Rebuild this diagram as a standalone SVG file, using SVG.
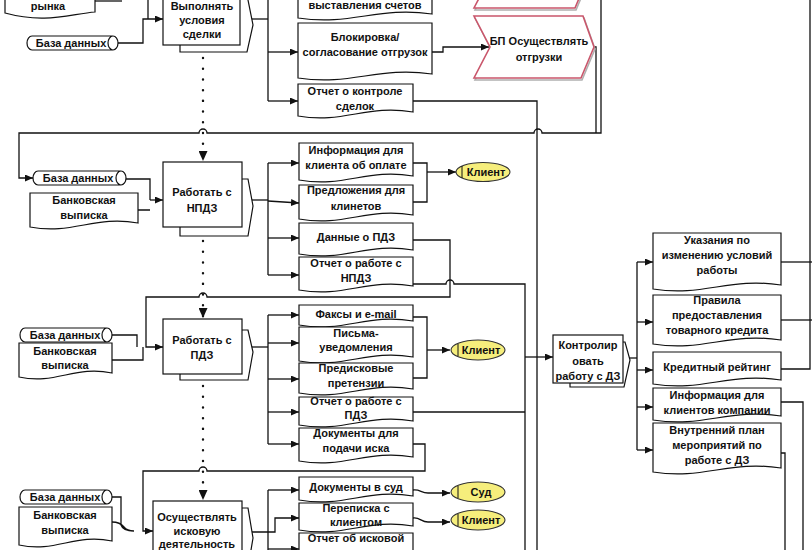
<svg xmlns="http://www.w3.org/2000/svg" width="812" height="550" viewBox="0 0 812 550">
<defs>
<style>
.ln{fill:none;stroke:#111;stroke-width:1.3}
.doc{fill:#fff;stroke:#111;stroke-width:1.2}
.box{fill:#fff;stroke:#111;stroke-width:1.2}
.dot{fill:none;stroke:#111;stroke-width:2.4;stroke-dasharray:0.1 10.6;stroke-linecap:round}
.pink{fill:#fff;stroke:#c9566b;stroke-width:1.6}
.pinks{fill:none;stroke:#b0b0b0;stroke-width:1.6}
.ell{fill:#f6ee7c;stroke:#333;stroke-width:1.1}
.t{font-family:"Liberation Sans",Arial,sans-serif;font-weight:bold;font-size:11px;fill:#111;text-anchor:middle}
</style>
<marker id="a" viewBox="0 0 8 7" refX="8" refY="3.5" markerWidth="8" markerHeight="7" markerUnits="userSpaceOnUse" orient="auto"><path d="M0,0 L8,3.5 L0,7 Z" fill="#111"/></marker>
<marker id="ad" viewBox="0 0 10 9" refX="10" refY="4.5" markerWidth="10" markerHeight="9" markerUnits="userSpaceOnUse" orient="auto"><path d="M0,0 L10,4.5 L0,9 Z" fill="#111"/></marker>
</defs>

<!-- connectors -->
<g id="connectors">
<!-- top section -->
<path class="ln" d="M95,1 H122"/>
<path class="ln" d="M148,-5 V19"/>
<path class="ln" d="M118,43 H143 V19 H163" marker-end="url(#a)"/>
<path class="ln" d="M240,19 H268"/>
<path class="ln" d="M268,-10 V101"/>
<path class="ln" d="M268,52 H298" marker-end="url(#a)"/>
<path class="ln" d="M268,101 H298" marker-end="url(#a)"/>
<path class="ln" d="M432,52 H443 V47 H489" marker-end="url(#a)"/>
<path class="ln" d="M594,47 H596 V133"/>
<path class="ln" d="M601,-10 V133 H542 A4,4 0 0 0 534,133 H207 A4,4 0 0 0 199,133 H19 V178 H33" marker-end="url(#a)"/>
<path class="ln" d="M413,101 H537 V552"/>
<path class="dot" d="M203,58 V161" marker-end="url(#ad)"/>

<!-- NPDZ section -->
<path class="ln" d="M126,179 H150 V200 M138,210 H150"/>
<path class="ln" d="M150,200 H163" marker-end="url(#a)"/>
<path class="ln" d="M242,200 H268"/>
<path class="ln" d="M268,163 V275"/>
<path class="ln" d="M268,163 H299" marker-end="url(#a)"/>
<path class="ln" d="M268,201 L299,203" marker-end="url(#a)"/>
<path class="ln" d="M268,238 H299" marker-end="url(#a)"/>
<path class="ln" d="M268,275 H299" marker-end="url(#a)"/>
<path class="ln" d="M413,163 H427 V202 H413"/>
<path class="ln" d="M427,172 H456" marker-end="url(#a)"/>
<path class="ln" d="M413,240 H450 V297 H207 A4,4 0 0 0 199,297 H146 V347 H163" marker-end="url(#a)"/>
<path class="ln" d="M413,284 H446 A4,4 0 0 1 454,284 H525 V552"/>
<path class="dot" d="M203,241 V318" marker-end="url(#ad)"/>

<!-- PDZ section -->
<path class="ln" d="M112,335 H137 V347 M112,360 H143 V347"/>
<path class="ln" d="M242,347 H268"/>
<path class="ln" d="M268,315 V444"/>
<path class="ln" d="M268,315 H299" marker-end="url(#a)"/>
<path class="ln" d="M268,343 H299" marker-end="url(#a)"/>
<path class="ln" d="M268,379 H299" marker-end="url(#a)"/>
<path class="ln" d="M268,412 H299" marker-end="url(#a)"/>
<path class="ln" d="M268,444 H299" marker-end="url(#a)"/>
<path class="ln" d="M413,317 H427 V378 H413"/>
<path class="ln" d="M427,350 H450" marker-end="url(#a)"/>
<path class="ln" d="M413,412 H525"/>
<path class="ln" d="M413,444 H425 V471 H207 A4,4 0 0 0 199,471 H143 V531 H153" marker-end="url(#a)"/>
<path class="dot" d="M203,386 V500" marker-end="url(#ad)"/>

<!-- suit section -->
<path class="ln" d="M112,497 H121 V525 Q123,531 134,531 M112,522 Q120,522 124,527 Q127,531 134,531"/>
<path class="ln" d="M242,532 H275 V518 H299" marker-end="url(#a)"/>
<path class="ln" d="M268,490 V552"/>
<path class="ln" d="M268,490 H299" marker-end="url(#a)"/>
<path class="ln" d="M268,549 H299" marker-end="url(#a)"/>
<path class="ln" d="M413,490 C420,489 421,493 428,493 H450" marker-end="url(#a)"/>
<path class="ln" d="M413,518 C420,517 421,522 428,522 H450" marker-end="url(#a)"/>

<!-- control section -->
<path class="ln" d="M525,357 H553" marker-end="url(#a)"/>
<path class="ln" d="M623,358 H637"/>
<path class="ln" d="M637,262 V450"/>
<path class="ln" d="M637,262 H653" marker-end="url(#a)"/>
<path class="ln" d="M637,322 H653" marker-end="url(#a)"/>
<path class="ln" d="M637,370 H653" marker-end="url(#a)"/>
<path class="ln" d="M637,407 H653" marker-end="url(#a)"/>
<path class="ln" d="M637,450 H653" marker-end="url(#a)"/>
<path class="ln" d="M780,262 H812"/>
<path class="ln" d="M780,320 H812"/>
<path class="ln" d="M780,369 H810 V-10"/>
<path class="ln" d="M780,402 H803 V552"/>
<path class="ln" d="M780,453 H785 V552"/>
</g>

<!-- top section nodes -->
<g id="doc-rynka"><path class="doc" d="M5,-30 H95 V12 C70,14 45,24 5,13 Z"/><text class="t" x="48" y="10">рынка</text></g>
<g id="db-top"><path class="doc" d="M32,36 H113 A5,7 0 0 1 113,50 H32 A5,7 0 0 1 32,36 Z M113,36 A5,7 0 0 0 113,50"/><text class="t" x="71" y="47">База данных</text></g>
<g id="proc-deal"><polygon class="box" points="180,45 180,52 247,52 253,25 247,-5 240,-5"/><rect class="box" x="163" y="-8" width="77" height="53"/><text class="t" x="202" y="10">Выполнять</text><text class="t" x="202" y="24">условия</text><text class="t" x="202" y="38">сделки</text></g>
<g id="doc-invoice"><path class="doc" d="M298,-30 H432 V14 C378,6 352,26 298,18 Z"/><text class="t" x="365" y="9">выставления счетов</text></g>
<g id="doc-block"><path class="doc" d="M298,23 H432 V74 C378,66 352,86 298,78 Z"/><text class="t" x="365" y="41">Блокировка/</text><text class="t" x="365" y="56">согласование отгрузок</text></g>
<g id="doc-report-deals"><path class="doc" d="M298,84 H413 V112 C367,104 344,124 298,116 Z"/><text class="t" x="355" y="95">Отчет о контроле</text><text class="t" x="355" y="110">сделок</text></g>
<g id="bp-top"><polygon class="pinks" points="475,-52 576,-52 589,-21 576,10 475,10 491,-21"/><polygon class="pink" points="474,-54 575,-54 588,-23 575,8 474,8 490,-23"/></g>
<g id="bp-shipping"><polygon class="pinks" points="475,18 584,18 595,49 582,80 475,80 491,49"/><polygon class="pink" points="474,16 583,16 594,47 581,78 474,78 490,47"/><text class="t" x="539" y="45">БП Осуществлять</text><text class="t" x="539" y="61">отгрузки</text></g>

<!-- NPDZ -->
<g id="db-npdz"><path class="doc" d="M38,171 H121 A5,7 0 0 1 121,185 H38 A5,7 0 0 1 38,171 Z M121,171 A5,7 0 0 0 121,185"/><text class="t" x="78" y="182">База данных</text></g>
<g id="doc-bank-npdz"><path class="doc" d="M30,193 H138 V223 C95,215 73,235 30,227 Z"/><text class="t" x="84" y="204">Банковская</text><text class="t" x="84" y="219">выписка</text></g>
<g id="proc-npdz"><polygon class="box" points="180,227 180,236 248,236 253,206 248,179 242,179"/><rect class="box" x="163" y="162" width="79" height="65"/><text class="t" x="202" y="196">Работать с</text><text class="t" x="202" y="212">НПДЗ</text></g>
<g id="doc-info-pay"><path class="doc" d="M299,143 H413 V176 C367,168 345,188 299,180 Z"/><text class="t" x="356" y="154">Информация для</text><text class="t" x="356" y="169">клиента об оплате</text></g>
<g id="doc-offers"><path class="doc" d="M299,185 H413 V215 C367,207 345,227 299,219 Z"/><text class="t" x="356" y="194">Предложения для</text><text class="t" x="356" y="210">клинетов</text></g>
<g id="doc-pdz-data"><path class="doc" d="M299,223 H413 V250 C367,242 345,262 299,254 Z"/><text class="t" x="356" y="241">Данные о ПДЗ</text></g>
<g id="doc-report-npdz"><path class="doc" d="M299,257 H413 V286 C367,278 345,298 299,290 Z"/><text class="t" x="356" y="267">Отчет о работе с</text><text class="t" x="356" y="282">НПДЗ</text></g>
<g id="client-1"><ellipse class="ell" cx="483" cy="172" rx="27" ry="9.5"/><path class="ln" d="M462,166 V178" style="stroke-width:1"/><text class="t" x="486" y="176">Клиент</text></g>

<!-- PDZ -->
<g id="db-pdz"><path class="doc" d="M25,328 H107 A5,7 0 0 1 107,342 H25 A5,7 0 0 1 25,328 Z M107,328 A5,7 0 0 0 107,342"/><text class="t" x="65" y="339">База данных</text></g>
<g id="doc-bank-pdz"><path class="doc" d="M19,343 H112 V373 C75,365 56,385 19,377 Z"/><text class="t" x="65" y="355">Банковская</text><text class="t" x="65" y="369">выписка</text></g>
<g id="proc-pdz"><polygon class="box" points="180,374 180,380 248,380 253,352 248,330 242,330"/><rect class="box" x="163" y="319" width="79" height="55"/><text class="t" x="202" y="344">Работать с</text><text class="t" x="202" y="359">ПДЗ</text></g>
<g id="doc-fax"><path class="doc" d="M299,305 H413 V321 C367,313 345,333 299,325 Z"/><text class="t" x="356" y="318">Факсы и e-mail</text></g>
<g id="doc-letters"><path class="doc" d="M299,327 H413 V357 C367,349 345,369 299,361 Z"/><text class="t" x="356" y="337">Письма-</text><text class="t" x="356" y="351">уведомления</text></g>
<g id="doc-claims"><path class="doc" d="M299,363 H413 V389 C367,381 345,401 299,393 Z"/><text class="t" x="356" y="372">Предисковые</text><text class="t" x="356" y="387">претензии</text></g>
<g id="doc-report-pdz"><path class="doc" d="M299,397 H413 V421 C367,413 345,433 299,425 Z"/><text class="t" x="356" y="405">Отчет о работе с</text><text class="t" x="356" y="419">ПДЗ</text></g>
<g id="doc-suit-docs"><path class="doc" d="M299,428 H413 V457 C367,449 345,469 299,461 Z"/><text class="t" x="356" y="437">Документы для</text><text class="t" x="356" y="452">подачи иска</text></g>
<g id="client-2"><ellipse class="ell" cx="478" cy="350" rx="27" ry="10"/><path class="ln" d="M458,344 V356" style="stroke-width:1"/><text class="t" x="481" y="354">Клиент</text></g>

<!-- suit -->
<g id="db-suit"><path class="doc" d="M25,490 H107 A5,7 0 0 1 107,504 H25 A5,7 0 0 1 25,490 Z M107,490 A5,7 0 0 0 107,504"/><text class="t" x="65" y="501">База данных</text></g>
<g id="doc-bank-suit"><path class="doc" d="M19,507 H112 V541 C75,533 56,553 19,545 Z"/><text class="t" x="65" y="519">Банковская</text><text class="t" x="65" y="534">выписка</text></g>
<g id="proc-suit"><polygon class="box" points="170,561 170,568 248,568 253,538 248,508 242,508"/><rect class="box" x="153" y="501" width="89" height="60"/><text class="t" x="197" y="521">Осуществлять</text><text class="t" x="197" y="535">исковую</text><text class="t" x="197" y="548">деятельность</text></g>
<g id="doc-court-docs"><path class="doc" d="M299,477 H413 V496 C367,488 345,508 299,500 Z"/><text class="t" x="356" y="491">Документы в суд</text></g>
<g id="doc-corresp"><path class="doc" d="M299,503 H413 V526 C367,518 345,538 299,530 Z"/><text class="t" x="356" y="512">Переписка с</text><text class="t" x="356" y="526">клиентом</text></g>
<g id="doc-report-suit"><path class="doc" d="M299,533 H413 V574 C367,566 345,586 299,578 Z"/><text class="t" x="356" y="542">Отчет об исковой</text></g>
<g id="court"><ellipse class="ell" cx="478" cy="492" rx="27" ry="10"/><path class="ln" d="M458,486 V498" style="stroke-width:1"/><text class="t" x="481" y="496">Суд</text></g>
<g id="client-3"><ellipse class="ell" cx="478" cy="520" rx="27" ry="10"/><path class="ln" d="M458,514 V526" style="stroke-width:1"/><text class="t" x="481" y="524">Клиент</text></g>

<!-- control -->
<g id="proc-control"><polygon class="box" points="570,383 570,387 624,387 630,360 625,342 623,342"/><rect class="box" x="553" y="335" width="70" height="48"/><text class="t" x="588" y="349">Контролир</text><text class="t" x="588" y="365">овать</text><text class="t" x="588" y="380">работу с ДЗ</text></g>
<g id="doc-instr"><path class="doc" d="M653,233 H781 V285 C729,277 704,297 653,289 Z"/><text class="t" x="717" y="244">Указания по</text><text class="t" x="717" y="259">изменению условий</text><text class="t" x="717" y="274">работы</text></g>
<g id="doc-rules"><path class="doc" d="M653,295 H781 V340 C729,332 704,352 653,344 Z"/><text class="t" x="717" y="304">Правила</text><text class="t" x="717" y="319">предоставления</text><text class="t" x="717" y="334">товарного кредита</text></g>
<g id="doc-rating"><path class="doc" d="M653,352 H781 V380 C729,372 704,392 653,384 Z"/><text class="t" x="717" y="371">Кредитный рейтинг</text></g>
<g id="doc-info-clients"><path class="doc" d="M653,388 H781 V416 C729,408 704,428 653,420 Z"/><text class="t" x="717" y="399">Информация для</text><text class="t" x="717" y="414">клиентов компании</text></g>
<g id="doc-plan"><path class="doc" d="M653,423 H781 V468 C729,460 704,480 653,472 Z"/><text class="t" x="717" y="434">Внутренний план</text><text class="t" x="717" y="449">мероприятий по</text><text class="t" x="717" y="464">работе с ДЗ</text></g>
</svg>
